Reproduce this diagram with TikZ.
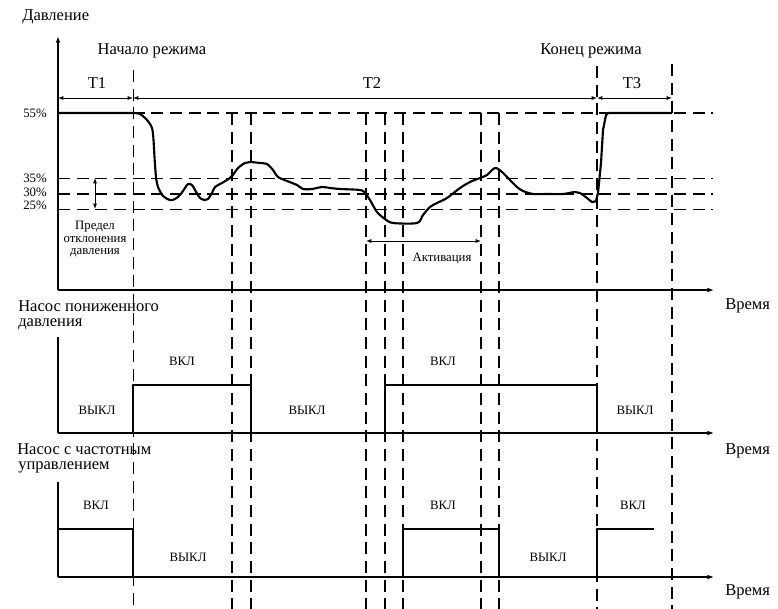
\documentclass[tikz,border=0pt]{standalone}
\usepackage{fontspec}
\setmainfont{Liberation Serif}
\usetikzlibrary{arrows.meta}
\begin{document}
\begin{tikzpicture}[x=0.75pt,y=-0.75pt,
  txt/.style={inner sep=0pt,font=\fontsize{12.4}{14}\selectfont},
  stxt/.style={inner sep=0pt,font=\fontsize{9.6}{11}\selectfont},
  thickdash/.style={line width=1.5pt,dash pattern=on 9pt off 5pt},
  thindash/.style={line width=0.7pt,dash pattern=on 9pt off 5pt},
  axisline/.style={line width=0.8pt,-{Latex[length=5pt,width=3.5pt]}},
  sig/.style={line width=1.6pt,line join=round},
  dim/.style={line width=0.7pt,{Latex[length=4pt,width=3pt]}-{Latex[length=4pt,width=3pt]}}]
\useasboundingbox (0,0) rectangle (778,609);

% horizontal reference levels
\draw[thickdash] (58,113) -- (713,113);
\draw[thindash] (58,178) -- (713,178);
\draw[thickdash] (58,194) -- (713,194);
\draw[thindash] (58,209) -- (713,209);

% vertical dashed lines
\draw[thindash] (133,70) -- (133,609);
\foreach \x in {232,251,366,385,403,481,499}
  \draw[thickdash] (\x,113) -- (\x,609);
\draw[thickdash] (597,66) -- (597,609);
\draw[thickdash] (672,64) -- (672,609);

% axes
\coordinate (ytop) at (58,36);
\coordinate (o1) at (58,290);
\coordinate (e1) at (714,290);
\coordinate (p1top) at (58,337);
\coordinate (o2) at (58,433);
\coordinate (e2) at (714,433);
\coordinate (p2top) at (58,482);
\coordinate (o3) at (58,577);
\coordinate (e3) at (714,577);
\draw[axisline,line width=1.2pt] (o1) -- (ytop);
\draw[axisline] (o1) -- (e1);
\draw[line width=0.8pt] (p1top) -- (o2);
\draw[axisline] (o2) -- (e2);
\draw[line width=0.8pt] (p2top) -- (o3);
\draw[axisline] (o3) -- (e3);

% dimension lines T1 T2 T3
\coordinate (d0) at (58,98);
\coordinate (d1) at (133,98);
\coordinate (d2) at (597,98);
\coordinate (d3) at (672,98);
\draw[dim] (d0) -- (d1);
\draw[dim] (d1) -- (d2);
\draw[dim] (d2) -- (d3);

% deviation arrow
\coordinate (dv1) at (95,178);
\coordinate (dv2) at (95,209);
\draw[dim] (dv1) -- (dv2);

% activation arrow
\coordinate (ac1) at (366,241);
\coordinate (ac2) at (481,241);
\draw[dim] (ac1) -- (ac2);

% pressure curve
\draw[sig] (58,113) -- (133,113) -- plot[smooth,tension=0.5] coordinates {
 (133,113) (140,114) (147,120) (152,128) (153.5,140) (154.5,157) (156,177) (158,187)
 (163,196) (170,200) (175,199) (180,195) (185,188) (188,184) (192,185) (195,190)
 (200,198) (205,200) (208,199) (212,193) (215,187) (222,183) (230,178) (233,175)
 (238,168) (245,163) (250,162) (260,163) (267,164) (273,170) (278,177) (287,181)
 (297,185) (303,189) (312,189) (322,187) (330,188) (340,189) (360,190) (365,193)
 (370,200) (377,212) (385,219) (393,223) (417,223) (423,215) (430,207) (437,203)
 (447,198) (460,188) (470,182) (480,178) (487,175) (495,168) (502,172) (508,178)
 (517,187) (523,191) (533,194) (547,194) (563,194) (575,192) (580,193) (587,198)
 (592,202) (596,201)}
 -- (598,193) -- (601,163) -- (603,130) -- (606,115) -- (608,113) -- (672,113);

% pump 1 signal
\draw[sig] (58,433) -- (133,433) -- (133,385) -- (251,385) -- (251,433) -- (385,433)
  -- (385,385) -- (597,385) -- (597,433) -- (653,433);
% pump 2 signal
\draw[sig] (58,529) -- (133,529) -- (133,577) -- (403,577) -- (403,529) -- (499,529)
  -- (499,577) -- (597,577) -- (597,529) -- (654,529);

% texts
\node[txt,anchor=base west] (lp) at (22,21) {Давление};
\node[txt,anchor=base] (lstart) at (152,55) {Начало режима};
\node[txt,anchor=base] (lend) at (591,55) {Конец режима};
\node[txt,anchor=base] (lt1) at (97,89) {T1};
\node[txt,anchor=base] (lt2) at (372,89) {T2};
\node[txt,anchor=base] (lt3) at (632,89) {T3};
\node[stxt,anchor=base east] (l55) at (47,117.5) {55\%};
\node[stxt,anchor=base east] (l35) at (47,183) {35\%};
\node[stxt,anchor=base east] (l30) at (47,197) {30\%};
\node[stxt,anchor=base east] (l25) at (47,210) {25\%};
\node[stxt,anchor=base] (lpr1) at (95,230) {Предел};
\node[stxt,anchor=base] (lpr2) at (95,242.5) {отклонения};
\node[stxt,anchor=base] (lpr3) at (95,255) {давления};
\node[stxt,anchor=base] (lact) at (442,262) {Активация};
\node[txt,anchor=base west] (lt1x) at (725,310) {Время};
\node[txt,anchor=base west] (lt2x) at (725,454) {Время};
\node[txt,anchor=base west] (lt3x) at (725,595) {Время};
\node[txt,anchor=base west] (lpa1) at (18,312) {Насос пониженного};
\node[txt,anchor=base west] (lpa2) at (18,327) {давления};
\node[txt,anchor=base west] (lpb1) at (17,454) {Насос с частотным};
\node[txt,anchor=base west] (lpb2) at (18,469.5) {управлением};
\node[stxt,anchor=base] (a1) at (182,366) {ВКЛ};
\node[stxt,anchor=base] (a2) at (443,366) {ВКЛ};
\node[stxt,anchor=base] (a3) at (97,415) {ВЫКЛ};
\node[stxt,anchor=base] (a4) at (307,415) {ВЫКЛ};
\node[stxt,anchor=base] (a5) at (635,415) {ВЫКЛ};
\node[stxt,anchor=base] (b1) at (96,509) {ВКЛ};
\node[stxt,anchor=base] (b2) at (443,509) {ВКЛ};
\node[stxt,anchor=base] (b3) at (633,509) {ВКЛ};
\node[stxt,anchor=base] (b4) at (188,561) {ВЫКЛ};
\node[stxt,anchor=base] (b5) at (548,561) {ВЫКЛ};
\end{tikzpicture}
\end{document}
